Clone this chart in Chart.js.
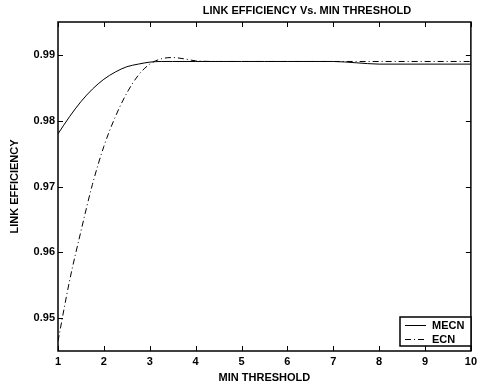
<!DOCTYPE html>
<html>
<head>
<meta charset="utf-8">
<script src="https://cdn.jsdelivr.net/npm/chart.js@4.4.1/dist/chart.umd.min.js"></script>
<style>
  html, body { margin: 0; padding: 0; background: #fff; }
  #graphic1 { display: block; }
</style>
</head>
<body>
<canvas id="graphic1" width="481" height="389"></canvas>
<script>
// threshold values and link efficiency of both schemes
const thresholdsMecn = [1, 1.25, 1.5, 1.75, 2, 2.25, 2.5, 2.75, 3, 3.25, 3.5, 4, 4.5, 5, 5.5, 6, 6.5, 7, 7.5, 8, 8.5, 9, 9.5, 10];
const mecn = [0.9780, 0.9806, 0.9829, 0.9848, 0.9863, 0.9874, 0.9882, 0.9886, 0.9889, 0.9890, 0.9890, 0.9890, 0.9890, 0.9890, 0.9890, 0.9890, 0.9890, 0.9890, 0.9888, 0.9886, 0.9886, 0.9886, 0.9886, 0.9886];

const thresholdsEcn = [1, 1.25, 1.5, 1.75, 2, 2.25, 2.5, 2.75, 3, 3.25, 3.5, 3.75, 4, 4.5, 5, 5.5, 6, 6.5, 7, 7.5, 8, 8.5, 9, 9.5, 10];
const ecn = [0.9465, 0.9556, 0.9632, 0.9703, 0.9761, 0.9806, 0.9842, 0.9869, 0.9886, 0.9894, 0.9896, 0.9894, 0.9891, 0.9890, 0.9890, 0.9890, 0.9890, 0.9890, 0.9890, 0.9890, 0.9890, 0.9890, 0.9890, 0.9890, 0.9890];

const xTicks = [1, 2, 3, 4, 5, 6, 7, 8, 9, 10];
const yTicks = [0.95, 0.96, 0.97, 0.98, 0.99];

const FONT = { family: '"Liberation Sans", Arial, Helvetica, sans-serif', size: 11, weight: 'bold' };

function toPoints(xs, ys) {
  return xs.map((x, i) => ({ x: x, y: ys[i] }));
}

// box around the axes with inward ticks on all four sides
const boxPlugin = {
  id: 'box',
  afterDatasetsDraw(chart) {
    const { ctx, chartArea: a, scales } = chart;
    const len = 5;
    ctx.save();
    ctx.strokeStyle = '#000';
    ctx.lineWidth = 1;
    ctx.beginPath();
    xTicks.forEach(v => {
      const px = Math.round(scales.x.getPixelForValue(v)) + 0.5;
      ctx.moveTo(px, a.bottom); ctx.lineTo(px, a.bottom - len);
      ctx.moveTo(px, a.top); ctx.lineTo(px, a.top + len);
    });
    yTicks.forEach(v => {
      const py = Math.round(scales.y.getPixelForValue(v)) + 0.5;
      ctx.moveTo(a.left, py); ctx.lineTo(a.left + len, py);
      ctx.moveTo(a.right, py); ctx.lineTo(a.right - len, py);
    });
    ctx.stroke();
    ctx.lineWidth = 1.5;
    ctx.strokeRect(a.left, a.top, a.right - a.left, a.bottom - a.top);
    ctx.restore();
  }
};

// title and boxed legend in the lower right corner
const textPlugin = {
  id: 'texts',
  afterDraw(chart) {
    const { ctx } = chart;
    ctx.save();
    ctx.fillStyle = '#000';
    ctx.font = 'bold 11px "Liberation Sans", Arial, sans-serif';
    ctx.textAlign = 'center';
    ctx.textBaseline = 'middle';
    ctx.fillText('LINK EFFICIENCY Vs. MIN THRESHOLD', 307, 11);

    const bx = 400, by = 317, bw = 71, bh = 29;
    ctx.fillStyle = '#fff';
    ctx.fillRect(bx, by, bw, bh);
    ctx.strokeStyle = '#000';
    ctx.lineWidth = 1.5;
    ctx.strokeRect(bx, by, bw, bh);
    chart.data.datasets.forEach((ds, i) => {
      const y = by + 8.5 + i * 14;
      ctx.beginPath();
      ctx.lineWidth = 1;
      ctx.setLineDash(ds.borderDash || []);
      ctx.moveTo(405, y);
      ctx.lineTo(426, y);
      ctx.stroke();
      ctx.setLineDash([]);
      ctx.fillStyle = '#000';
      ctx.textAlign = 'left';
      ctx.fillText(ds.label, 432, y);
    });
    ctx.restore();
  }
};

const ctx = document.querySelector('#graphic1').getContext('2d');
const myChart = new Chart(ctx, {
  type: 'line',
  data: {
    datasets: [{
      label: 'MECN',
      data: toPoints(thresholdsMecn, mecn),
      borderColor: '#000',
      borderWidth: 1,
      pointRadius: 0,
      cubicInterpolationMode: 'monotone'
    }, {
      label: 'ECN',
      data: toPoints(thresholdsEcn, ecn),
      borderColor: '#000',
      borderWidth: 1,
      borderDash: [6, 3, 1, 3],
      pointRadius: 0,
      cubicInterpolationMode: 'monotone'
    }]
  },
  options: {
    responsive: false,
    animation: false,
    devicePixelRatio: 1,
    layout: { padding: { top: 22, right: 6, left: 0, bottom: 0 } },
    plugins: {
      legend: { display: false },
      title: { display: false },
      tooltip: { enabled: false }
    },
    scales: {
      x: {
        type: 'linear',
        min: 1,
        max: 10,
        grid: { display: false, drawTicks: false },
        border: { display: false },
        afterBuildTicks: axis => { axis.ticks = xTicks.map(v => ({ value: v })); },
        afterFit: axis => { axis.height = 38; },
        ticks: { color: '#000', font: FONT, padding: 4, autoSkip: false, maxRotation: 0 },
        title: { display: true, text: 'MIN THRESHOLD', color: '#000', font: FONT, padding: { top: 0, bottom: 4 } }
      },
      y: {
        type: 'linear',
        min: 0.945,
        max: 0.995,
        grid: { display: false, drawTicks: false },
        border: { display: false },
        afterBuildTicks: axis => { axis.ticks = yTicks.map(v => ({ value: v })); },
        afterFit: axis => { axis.width = 58; },
        ticks: { color: '#000', font: FONT, padding: 3, callback: v => String(v) },
        title: { display: true, text: 'LINK EFFICIENCY', color: '#000', font: FONT, padding: { top: 8, bottom: 0 } }
      }
    }
  },
  plugins: [boxPlugin, textPlugin]
});
</script>
</body>
</html>
